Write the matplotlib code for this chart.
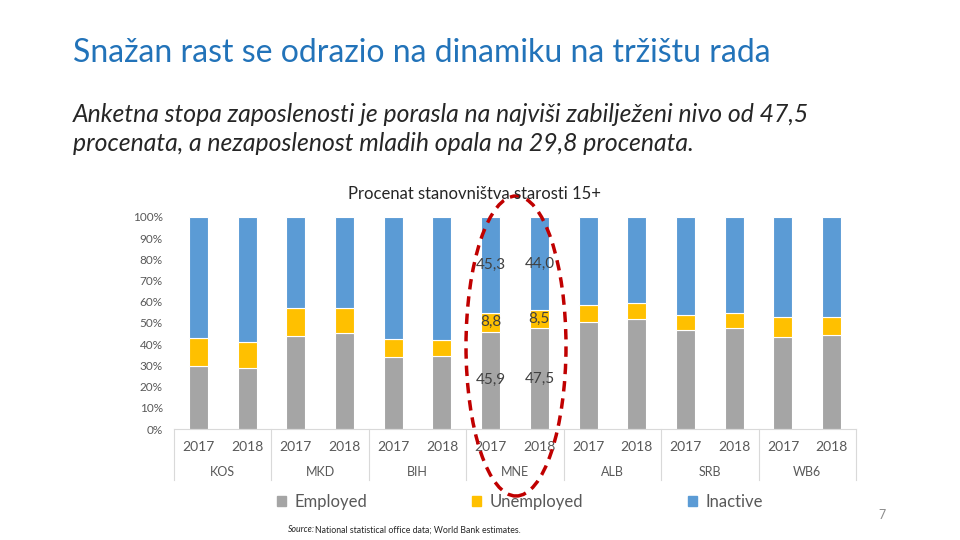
import matplotlib
matplotlib.use("Agg")
import matplotlib.pyplot as plt
from matplotlib.patches import Ellipse, Patch
import numpy as np

# data (percent of population 15+)
countries = ["KOS", "MKD", "BIH", "MNE", "ALB", "SRB", "WB6"]
years = ["2017", "2018"]
employed = [29.5, 28.8, 44.1, 45.3, 34.0, 34.4, 45.9, 47.5, 50.5, 52.0, 46.8, 47.7, 43.6, 44.4]
unemployed = [13.5, 12.1, 13.1, 11.9, 8.5, 7.6, 8.8, 8.5, 8.1, 7.6, 7.1, 7.1, 9.0, 8.2]
inactive = [100 - e - u for e, u in zip(employed, unemployed)]
inactive[6] = 45.3
inactive[7] = 44.0
labelled = [6, 7]  # MNE bars carry value labels

plt.rcParams['font.family'] = ['Lato', 'DejaVu Sans']

fig = plt.figure(figsize=(9.6, 5.4), dpi=100)
ax = fig.add_axes([174 / 960, 1 - 429 / 540, 682 / 960, 212 / 540])

c_emp = "#A5A5A5"
c_une = "#FFC000"
c_ina = "#5B9BD5"

x = np.arange(len(employed))
emp = np.array(employed) / 100
une = np.array(unemployed) / 100
ina = np.array(inactive) / 100
w = 0.39
ax.bar(x, emp, w, color=c_emp, edgecolor="white", linewidth=0.8)
ax.bar(x, une, w, bottom=emp, color=c_une, edgecolor="white", linewidth=0.8)
ax.bar(x, ina, w, bottom=emp + une, color=c_ina, edgecolor="white", linewidth=0.8)

def fmt(v):
    return ("%.1f" % v).replace(".", ",")

for i in labelled:
    ax.text(x[i], emp[i] / 2, fmt(employed[i]), ha="center", va="center", fontsize=11, color="#404040")
    ax.text(x[i], emp[i] + une[i] / 2, fmt(unemployed[i]), ha="center", va="center", fontsize=11, color="#404040")
    ax.text(x[i], emp[i] + une[i] + ina[i] / 2, fmt(inactive[i]), ha="center", va="center", fontsize=11, color="#404040")

ax.set_xlim(-0.5, len(x) - 0.5)
ax.set_ylim(0, 1)
ax.set_yticks(np.arange(0, 1.01, 0.1))
ax.set_yticklabels(["%d%%" % v for v in range(0, 101, 10)], fontsize=8.5, color="#595959")
ax.tick_params(axis="y", length=0, pad=8)
ax.set_xticks([])
for s in ["top", "right", "left"]:
    ax.spines[s].set_visible(False)
ax.spines["bottom"].set_color("#D9D9D9")

# category table under the axis
for k in range(len(countries) + 1):
    ax.plot([2 * k - 0.5, 2 * k - 0.5], [0, -0.24], color="#D9D9D9", lw=0.8, clip_on=False)
for i in x:
    ax.text(i, -0.085, years[i % 2], ha="center", va="center", fontsize=10, color="#595959")
for k, c in enumerate(countries):
    ax.text(2 * k + 0.5, -0.205, c, ha="center", va="center", fontsize=9, color="#595959")

# texts
fig.text(73 / 960, 1 - 53 / 540, "Snažan rast se odrazio na dinamiku na tržištu rada",
         fontsize=23, color="#2273B9", va="center")
fig.text(73 / 960, 1 - 129 / 540,
         "Anketna stopa zaposlenosti je porasla na najviši zabilježeni nivo od 47,5\n"
         "procenata, a nezaposlenost mladih opala na 29,8 procenata.",
         fontsize=17.8, style="italic", color="#262626", va="center", linespacing=1.3)
fig.text(474 / 960, 1 - 194 / 540, "Procenat stanovništva starosti 15+", fontsize=12,
         color="#262626", ha="center", va="center")
fig.text(288 / 960, 1 - 530 / 540, "Source:", fontsize=6.3, style="italic", color="#262626", va="center")
fig.text(315 / 960, 1 - 530 / 540, "National statistical office data; World Bank estimates.",
         fontsize=6.3, color="#262626", va="center")
fig.text(882 / 960, 1 - 515 / 540, "7", fontsize=9, color="#8C8C8C", ha="center", va="center")

handles = [Patch(color=c_emp, label="Employed"), Patch(color=c_une, label="Unemployed"),
           Patch(color=c_ina, label="Inactive")]
leg = fig.legend(handles=handles, loc="center", bbox_to_anchor=(520 / 960, 1 - 502 / 540), ncol=3,
                 frameon=False, fontsize=12, handlelength=0.55, handleheight=0.55, handletextpad=0.5,
                 columnspacing=6.3)
for t in leg.get_texts():
    t.set_color("#595959")

# red dashed ellipse around MNE
ell = Ellipse((516 / 960, 1 - 346 / 540), 100 / 960, 300 / 540, transform=fig.transFigure,
              fill=False, edgecolor="#C00000", lw=2.5, linestyle=(0, (3, 2)))
fig.patches.append(ell)

fig.savefig("out.png", dpi=100)
